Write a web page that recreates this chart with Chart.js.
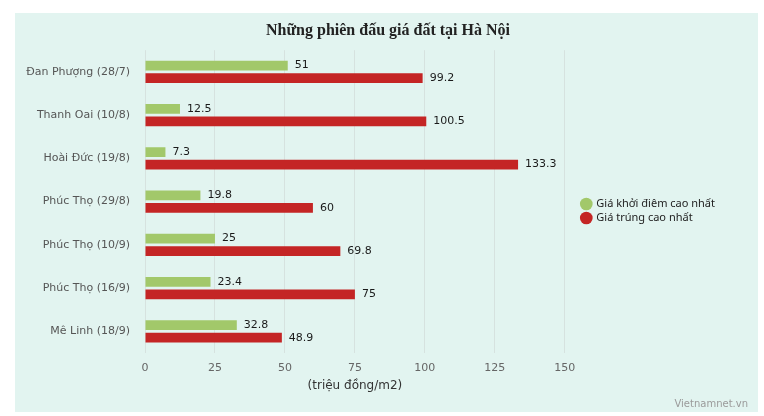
<!DOCTYPE html>
<html>
<head>
<meta charset="utf-8">
<script src="https://cdn.jsdelivr.net/npm/chart.js@4"></script>
<style>
	html, body { margin: 0; padding: 0; background: #fff; }
	#wrap { width: 764px; height: 416px; }
</style>
</head>
<body>
<div id="wrap"><canvas id="chart" width="764" height="416"></canvas></div>
<script>
const categories = ['Đan Phượng (28/7)', 'Thanh Oai (10/8)', 'Hoài Đức (19/8)', 'Phúc Thọ (29/8)', 'Phúc Thọ (10/9)', 'Phúc Thọ (16/9)', 'Mê Linh (18/9)'];
const start_price = [51, 12.5, 7.3, 19.8, 25, 23.4, 32.8];
const win_price = [99.2, 100.5, 133.3, 60, 69.8, 75, 48.9];
const series_names = ['Giá khởi điêm cao nhất', 'Giá trúng cao nhất'];
const x_ticks = [0, 25, 50, 75, 100, 125, 150];

const ctx = document.getElementById('chart');
const sans = '"DejaVu Sans", Verdana, sans-serif';

// panel background + source note, title nudged to the panel centre
const panel_plugin = {
	id: 'panel',
	afterLayout (chart) {
		chart.titleBlock.left += 18;
		chart.titleBlock.right += 18;

		// centre the axis title under the 0..150 range, not the whole scale
		const x = chart.scales.x;
		if (!x._titlePatched) {
			const orig = x.drawTitle;
			x.drawTitle = function () {
				const r = this.right;
				this.right = 2 * this.getPixelForValue(x_ticks[x_ticks.length - 1] / 2) - this.left;
				orig.call(this);
				this.right = r;
			};
			x._titlePatched = true;
		}
	},
	beforeDraw (chart) {
		const c = chart.ctx;
		c.save();
		c.fillStyle = '#e2f4f0';
		c.fillRect(15, 13, 743, 399);
		c.restore();
	},
	afterDraw (chart) {
		const c = chart.ctx;
		c.save();
		c.font = '10px ' + sans;
		c.fillStyle = '#9a9a9a';
		c.textAlign = 'right';
		c.textBaseline = 'middle';
		c.fillText('Vietnamnet.vn', 748, 404);
		c.restore();
	}
};

// value labels at the end of every bar
const value_plugin = {
	id: 'values',
	afterDatasetsDraw (chart) {
		const c = chart.ctx;
		c.save();
		c.font = '11px ' + sans;
		c.fillStyle = '#1a1a1a';
		c.textAlign = 'left';
		c.textBaseline = 'middle';
		chart.data.datasets.forEach((ds, i) => {
			chart.getDatasetMeta(i).data.forEach((bar, j) => {
				c.fillText(`${ds.data[j]}`, bar.x + 7, bar.y);
			});
		});
		c.restore();
	}
};

new Chart(ctx, {
	type: 'bar',
	data: {
		labels: categories,
		datasets: [{
			label: series_names[0],
			data: start_price,
			backgroundColor: '#a2c86a',
			categoryPercentage: 0.58,
			barPercentage: 0.78
		}, {
			label: series_names[1],
			data: win_price,
			backgroundColor: '#c42525',
			categoryPercentage: 0.58,
			barPercentage: 0.78
		}]
	},
	options: {
		indexAxis: 'y',
		responsive: false,
		animation: false,
		layout: {
			padding: { left: 15, right: 39, top: 13, bottom: 19 }
		},
		plugins: {
			title: {
				display: true,
				text: 'Những phiên đấu giá đất tại Hà Nội',
				color: '#222',
				font: { family: '"Liberation Serif", "Times New Roman", serif', size: 16, weight: 'bold' },
				padding: { top: 8, bottom: 10 }
			},
			legend: {
				position: 'right',
				title: { display: true, text: ' ', padding: 0, font: { size: 10 } },
				labels: {
					usePointStyle: true,
					pointStyle: 'circle',
					boxWidth: 9,
					boxHeight: 9,
					padding: 3,
					color: '#222',
					font: { family: '"Noto Sans", sans-serif', size: 11 }
				}
			},
			tooltip: { enabled: false }
		},
		scales: {
			x: {
				min: 0,
				max: 155,
				afterBuildTicks: scale => { scale.ticks = x_ticks.map(v => ({ value: v })); },
				afterFit: scale => { scale.height = 44; },
				grid: { color: '#d6e2df', drawTicks: false },
				border: { display: false },
				ticks: { color: '#666', padding: 9, font: { family: sans, size: 11 } },
				title: {
					display: true,
					text: '(triệu đồng/m2)',
					color: '#333',
					font: { family: sans, size: 12 },
					padding: { top: 4, bottom: 4 }
				}
			},
			y: {
				afterFit: scale => { scale.width = 130; },
				grid: { display: false, drawTicks: false },
				border: { display: false },
				ticks: { color: '#555', padding: 15, font: { family: sans, size: 11 } }
			}
		}
	},
	plugins: [panel_plugin, value_plugin]
});
</script>
</body>
</html>
